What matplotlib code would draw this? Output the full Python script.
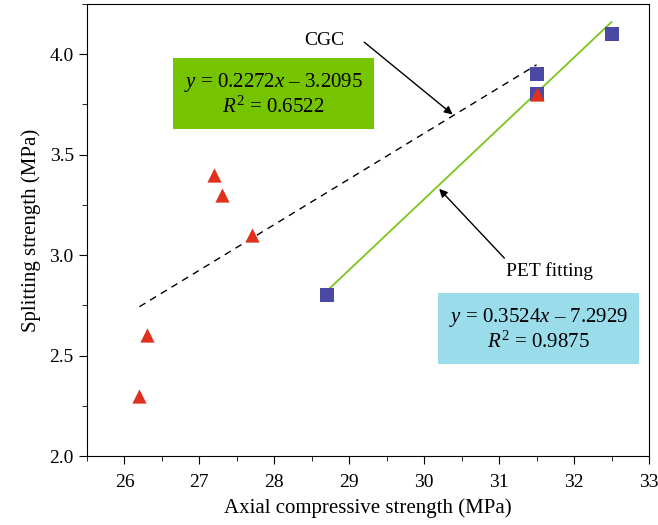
import matplotlib
matplotlib.use("Agg")
import matplotlib.pyplot as plt
import numpy as np

plt.rcParams.update({
    "font.family": ["Liberation Serif", "DejaVu Serif"],
    "mathtext.fontset": "custom",
    "mathtext.rm": "Liberation Serif",
    "mathtext.it": "Liberation Serif:italic",
    "font.size": 12,
})

# CGC specimens (triangles)
cgc_x = [26.2, 26.3, 27.2, 27.3, 27.7, 31.5]
cgc_y = [2.3, 2.6, 3.4, 3.3, 3.1, 3.8]
# PET specimens (squares)
pet_x = [28.7, 31.5, 31.5, 32.5]
pet_y = [2.8, 3.8, 3.9, 4.1]

# linear fits
cgc_fit = (0.2272, -3.2095, 0.6522)
pet_fit = (0.3524, -7.2929, 0.9875)
cgc_range = [26.2, 31.5]
pet_range = [28.7, 32.5]

fig = plt.figure(figsize=(6.58, 5.25), dpi=100)
ax = fig.add_axes([0.1322, 0.1314, 0.8541, 0.861])

xs = np.array(cgc_range)
ax.plot(xs, cgc_fit[0] * xs + cgc_fit[1], "k--", lw=1, dashes=(5, 4), zorder=2)
xs = np.array(pet_range)
ax.plot(xs, pet_fit[0] * xs + pet_fit[1], color="#7cc51c", lw=1.3, zorder=2)

ax.scatter(pet_x, pet_y, marker="s", s=105, color="#4a4aa6", zorder=3, linewidths=0)
ax.scatter(cgc_x, cgc_y, marker="^", s=105, color="#e0311e", zorder=4, linewidths=0)

ax.text(27.99, 3.80, "$y$ = %.4f$x$ \u2013 %.4f\n$R^2$ = %.4f" % (cgc_fit[0], -cgc_fit[1], cgc_fit[2]),
        ha="center", va="center", fontsize=15, linespacing=1.2,
        bbox=dict(boxstyle="square,pad=0.53", fc="#76c400", ec="none"))
ax.text(31.53, 2.63, "$y$ = %.4f$x$ \u2013 %.4f\n$R^2$ = %.4f" % (pet_fit[0], -pet_fit[1], pet_fit[2]),
        ha="center", va="center", fontsize=15, linespacing=1.2,
        bbox=dict(boxstyle="square,pad=0.53", fc="#9adcea", ec="none"))

ax.text(28.67, 4.07, "CGC", fontsize=14, ha="center", va="center")
ax.annotate("", xy=(30.38, 3.70), xytext=(29.2, 4.06),
            arrowprops=dict(arrowstyle="-|>", color="black", lw=1, shrinkA=0, shrinkB=0,
                            mutation_scale=12))
ax.text(31.67, 2.92, "PET fitting", fontsize=14, ha="center", va="center")
ax.annotate("", xy=(30.2, 3.33), xytext=(31.07, 2.985),
            arrowprops=dict(arrowstyle="-|>", color="black", lw=1, shrinkA=0, shrinkB=0,
                            mutation_scale=12))

ax.set_xlim(25.5, 33)
ax.set_ylim(2.0, 4.25)
ax.set_xticks(np.arange(26, 34, 1))
ax.set_xticks(np.arange(25.5, 33.1, 0.5), minor=True)
ax.set_yticks([2.0, 2.5, 3.0, 3.5, 4.0])
ax.set_yticks(np.arange(2.0, 4.26, 0.25), minor=True)
ax.yaxis.set_major_formatter(matplotlib.ticker.FormatStrFormatter("%.1f"))
ax.tick_params(which="major", direction="out", length=6, labelsize=14)
ax.tick_params(axis="x", which="major", pad=7)
ax.tick_params(which="minor", direction="out", length=3.5)
ax.set_xlabel("Axial compressive strength (MPa)", fontsize=15, labelpad=5)
ax.set_ylabel("Splitting strength (MPa)", fontsize=15, labelpad=6)

fig.savefig("out.png", dpi=100)
